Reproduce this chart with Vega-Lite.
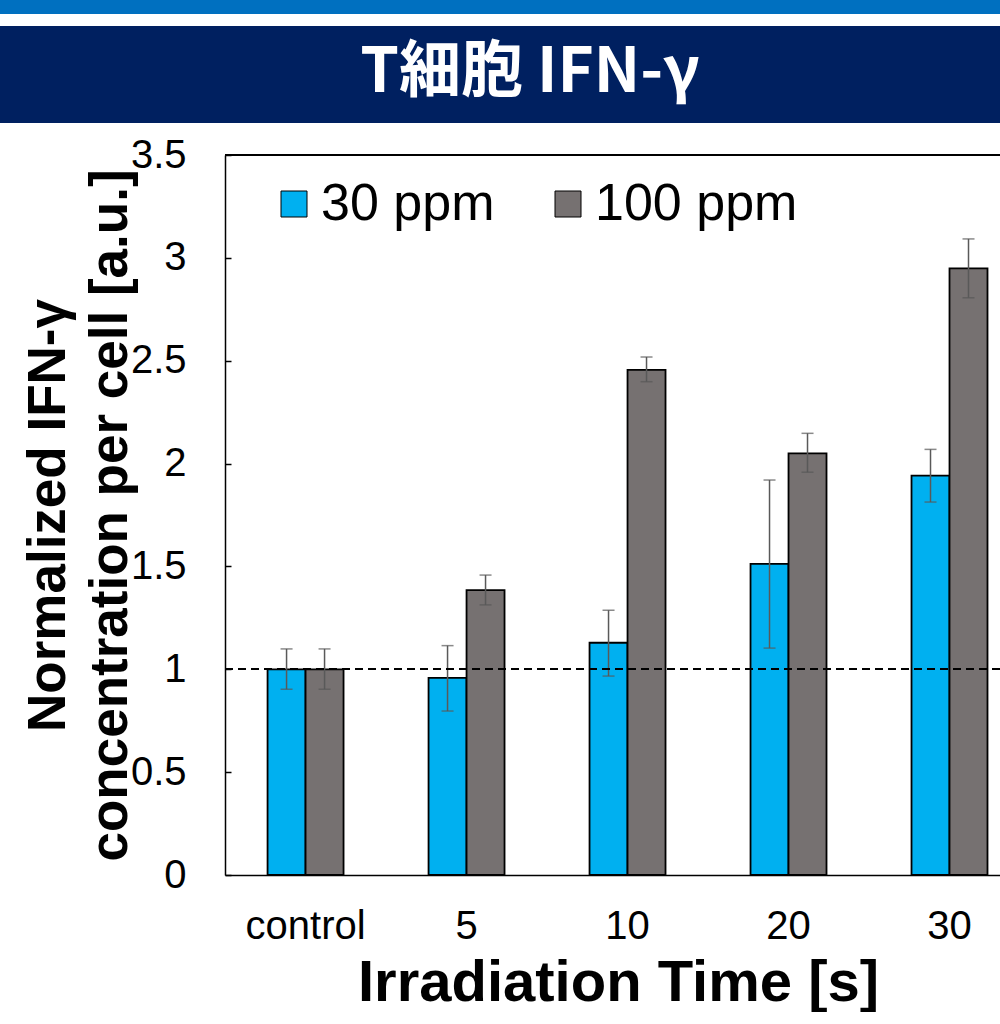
{
  "$schema": "https://vega.github.io/schema/vega-lite/v6.json",
  "padding": 0,
  "background": "white",
  "spacing": 12,
  "config": {"view": {"stroke": null}},
  "vconcat": [
    {
      "width": 1000,
      "height": 14,
      "view": {"fill": "#0070C0", "stroke": null},
      "data": {"values": [{"t": ""}]},
      "mark": {"type": "text"},
      "encoding": {"text": {"field": "t"}}
    },
    {
      "width": 1000,
      "height": 97,
      "view": {"fill": "#002060", "stroke": null},
      "data": {"values": [{"title": "T細胞 IFN-γ"}]},
      "mark": {"type": "text", "color": "white", "font": "Noto Sans CJK JP", "fontWeight": "bold", "fontSize": 62, "baseline": "middle", "align": "center", "dx": 30, "dy": -2},
      "encoding": {"text": {"field": "title"}}
    },
    {
      "width": 1000,
      "height": 720,
      "view": {"stroke": null},
      "data": {"values": [
        {"time": "control", "conc": "30 ppm", "value": 1.0, "lo": 0.903, "hi": 1.099},
        {"time": "control", "conc": "100 ppm", "value": 1.0, "lo": 0.903, "hi": 1.099},
        {"time": "5", "conc": "30 ppm", "value": 0.958, "lo": 0.797, "hi": 1.115},
        {"time": "5", "conc": "100 ppm", "value": 1.385, "lo": 1.313, "hi": 1.458},
        {"time": "10", "conc": "30 ppm", "value": 1.129, "lo": 0.967, "hi": 1.287},
        {"time": "10", "conc": "100 ppm", "value": 2.455, "lo": 2.398, "hi": 2.518},
        {"time": "20", "conc": "30 ppm", "value": 1.512, "lo": 1.103, "hi": 1.92},
        {"time": "20", "conc": "100 ppm", "value": 2.05, "lo": 1.958, "hi": 2.147},
        {"time": "30", "conc": "30 ppm", "value": 1.941, "lo": 1.813, "hi": 2.069},
        {"time": "30", "conc": "100 ppm", "value": 2.949, "lo": 2.806, "hi": 3.092}
      ]},
      "resolve": {"scale": {"x": "independent"}},
      "layer": [
        {
          "encoding": {
            "x": {
              "field": "time", "type": "nominal",
              "sort": ["control", "5", "10", "20", "30"],
              "scale": {"range": [225, 1000], "paddingInner": 0.528, "paddingOuter": 0.171, "align": 0.773},
              "axis": {
                "title": "Irradiation Time [s]",
                "ticks": false,
                "domainColor": "black", "domainWidth": 1.5,
                "labelFont": "Liberation Sans", "labelFontSize": 40, "labelColor": "black",
                "labelAngle": 0, "labelBaseline": "alphabetic", "labelPadding": 63,
                "titleFont": "Liberation Sans", "titleFontSize": 58, "titleFontWeight": "bold", "titleColor": "black",
                "titleX": 618, "titleY": 125, "titleBaseline": "alphabetic", "titleAlign": "center"
              }
            },
            "xOffset": {"field": "conc", "type": "nominal", "sort": ["30 ppm", "100 ppm"], "scale": {"paddingInner": 0, "paddingOuter": 0}},
            "y": {
              "field": "value", "type": "quantitative",
              "scale": {"domain": [0, 3.5], "nice": false},
              "axis": {
                "title": ["Normalized IFN-γ", "concentration per cell [a.u.]"],
                "values": [0, 0.5, 1, 1.5, 2, 2.5, 3, 3.5],
                "format": "~g",
                "offset": -225,
                "grid": false,
                "domainColor": "black", "domainWidth": 1.5,
                "tickColor": "black", "tickWidth": 1.5, "tickSize": -6,
                "labelFont": "Liberation Sans", "labelFontSize": 40, "labelColor": "black", "labelPadding": 45,
                "labelOverlap": false, "labelFlush": false,
                "titleFont": "Liberation Sans", "titleFontSize": 53, "titleFontWeight": "bold", "titleColor": "black",
                "titleX": -161, "titleY": 360, "titleBaseline": "alphabetic", "titleAlign": "center", "titleAngle": -90, "titleLineHeight": 62
              }
            }
          },
          "layer": [
            {
              "mark": {"type": "bar", "stroke": "black", "strokeWidth": 1.8},
              "encoding": {
                "color": {
                  "field": "conc", "type": "nominal",
                  "scale": {"domain": ["30 ppm", "100 ppm"], "range": ["#00B0F0", "#767171"]},
                  "legend": {
                    "title": null, "orient": "none", "legendX": 268, "legendY": 178, "direction": "horizontal",
                    "padding": 0, "symbolType": "square", "symbolSize": 676, "symbolStrokeColor": "black", "symbolStrokeWidth": 1,
                    "labelFont": "Liberation Sans", "labelFontSize": 52, "labelColor": "black", "labelOffset": 1,
                    "labelLimit": 400, "columnPadding": 47
                  }
                }
              }
            },
            {
              "mark": {"type": "rule", "color": "#595959", "strokeWidth": 1.5},
              "encoding": {"y": {"field": "lo", "type": "quantitative"}, "y2": {"field": "hi"}}
            },
            {
              "mark": {"type": "tick", "orient": "horizontal", "color": "#595959", "size": 12, "thickness": 1.5},
              "encoding": {"y": {"field": "hi", "type": "quantitative"}}
            },
            {
              "mark": {"type": "tick", "orient": "horizontal", "color": "#595959", "size": 12, "thickness": 1.5},
              "encoding": {"y": {"field": "lo", "type": "quantitative"}}
            }
          ]
        },
        {
          "encoding": {
            "x": {"datum": 0, "type": "quantitative", "scale": {"domain": [0, 1], "range": [225, 1000]}, "axis": null},
            "x2": {"datum": 1}
          },
          "layer": [
            {
              "mark": {"type": "rule", "color": "black", "strokeWidth": 1.5},
              "encoding": {"y": {"datum": 3.5, "type": "quantitative"}}
            },
            {
              "mark": {"type": "rule", "color": "black", "strokeWidth": 1.5, "strokeDash": [8, 5]},
              "encoding": {"y": {"datum": 1, "type": "quantitative"}}
            }
          ]
        }
      ]
    }
  ]
}
